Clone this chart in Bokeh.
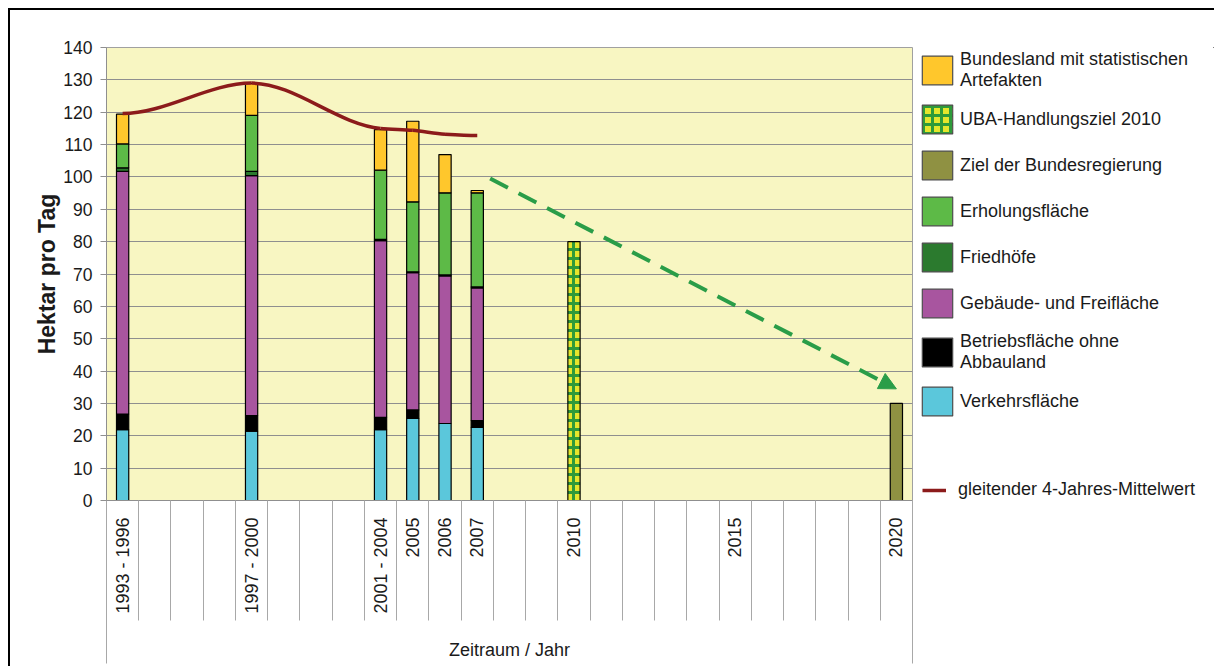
import numpy as np
from bokeh.plotting import figure
from bokeh.layouts import row
from bokeh.models import (Range1d, LinearAxis, FixedTicker, SingleIntervalTicker, Legend,
                          LegendItem, Arrow, NormalHead)
from bokeh.embed import file_html
from bokeh.resources import INLINE

# ---------------- data ----------------
x_categories = ["1993 - 1996", "", "", "", "1997 - 2000", "", "", "", "2001 - 2004",
                "2005", "2006", "2007", "", "", "2010", "", "", "", "", "2015",
                "", "", "", "", "2020"]

bar_periods = ["1993 - 1996", "1997 - 2000", "2001 - 2004", "2005", "2006", "2007"]
verkehr    = [21.9, 21.4, 21.9, 25.4, 23.8, 22.6]
betrieb    = [4.8, 4.8, 3.8, 2.6, -0.5, 2.1]
gebaeude   = [75.0, 74.2, 54.6, 42.4, 45.6, 41.0]
friedhoefe = [1.1, 1.3, 0.4, 0.3, 0.3, 0.3]
erholung   = [7.4, 17.3, 21.4, 21.6, 25.4, 29.1]
bundesland = [9.2, 9.9, 12.5, 24.9, 11.8, 0.7]

uba_period = ["2010"]
uba_value = [80]
ziel_period = ["2020"]
ziel_value = [30]

ma_periods = ["1993 - 1996", "1997 - 2000", "2001 - 2004", "2005", "2006", "2007"]
ma_values = [119.6, 129.0, 115.0, 114.4, 113.2, 112.8]

trend_x = [11.4, 24.0]
trend_y = [99.5, 34.5]

# ---------------- styling ----------------
FONT = "Liberation Sans"
TXT = "#1a1a1a"
GRID = "#8f8f8f"
SEP = "#a8a8a8"
C_VERK = "#5BC7DB"
C_BETR = "#000000"
C_GEB = "#A8559F"
C_FRIED = "#2B7A2E"
C_ERH = "#5DBA47"
C_BUND = "#FFC72C"
C_UBA_BG = "#E4E62C"
C_UBA_FG = "#2E9A3A"
C_ZIEL = "#8F9142"
C_MA = "#8C1B1B"
C_TREND = "#2A9D48"
UBA_HATCH = dict(hatch_pattern="cross", hatch_color=C_UBA_FG, hatch_scale=9, hatch_weight=3)
BAR_LINE = dict(line_color="black", line_width=1.2)
SW_LINE = dict(line_color="#4d4d4d", line_width=1.2)

def pos(label):
    return x_categories.index(label)

bar_x = [pos(c) for c in bar_periods]
BAR_W = 0.38

p = figure(width=903, height=656, x_range=Range1d(-0.5, len(x_categories) - 0.5),
           y_range=Range1d(0, 140), output_backend="svg", toolbar_location=None,
           x_axis_location=None, y_axis_location="left",
           min_border_left=96, min_border_top=37, min_border_right=1, min_border_bottom=166,
           background_fill_color="#F8F6C2", border_fill_color="white",
           outline_line_color="#a0a0a0")

# y axis
yax = p.yaxis[0]
yax.ticker = SingleIntervalTicker(interval=10)
yax.major_tick_out = 6
yax.major_tick_in = 0
yax.minor_tick_out = 0
yax.minor_tick_in = 0
yax.axis_line_color = GRID
yax.major_tick_line_color = GRID
yax.major_label_text_font = FONT
yax.major_label_text_font_size = "17.5px"
yax.major_label_text_color = TXT
yax.major_label_standoff = 8
yax.axis_label = "Hektar pro Tag"
yax.axis_label_text_font = FONT
yax.axis_label_text_font_size = "23px"
yax.axis_label_text_font_style = "bold"
yax.axis_label_text_color = TXT
yax.axis_label_standoff = 0

p.ygrid.grid_line_color = GRID
p.ygrid.grid_line_width = 1
p.xgrid.grid_line_color = None

# x axis A: labels + separators
label_ticks = [i for i, c in enumerate(x_categories) if c]
sep_ticks = [i - 0.5 for i in range(len(x_categories) + 1)]
axA = LinearAxis(ticker=FixedTicker(ticks=label_ticks, minor_ticks=sep_ticks),
                 major_label_overrides={i: x_categories[i] for i in label_ticks},
                 major_label_orientation=np.pi / 2,
                 major_tick_out=0, major_tick_in=0,
                 minor_tick_out=120, minor_tick_in=0,
                 minor_tick_line_color=SEP, minor_tick_line_width=1,
                 axis_line_color=GRID,
                 major_label_standoff=-103,
                 major_label_text_font=FONT, major_label_text_font_size="18px",
                 major_label_text_color=TXT)
p.add_layout(axA, "below")

# x axis B: outer box lines + title
axB = LinearAxis(ticker=FixedTicker(ticks=[-0.5, len(x_categories) - 0.5]),
                 major_label_overrides={-0.5: "", len(x_categories) - 0.5: ""},
                 major_label_text_font_size="0px", major_label_standoff=0,
                 major_tick_out=47, major_tick_in=0,
                 major_tick_line_color=SEP, major_tick_line_width=1,
                 minor_tick_out=0, minor_tick_in=0,
                 axis_line_color=None,
                 axis_label="Zeitraum / Jahr", axis_label_standoff=-24,
                 axis_label_text_font=FONT, axis_label_text_font_size="18px",
                 axis_label_text_font_style="normal", axis_label_text_color=TXT)
p.add_layout(axB, "below")

# stacked bars
series = [
    ("Verkehrsfläche", verkehr, C_VERK),
    ("Betriebsfläche ohne\nAbbauland", betrieb, C_BETR),
    ("Gebäude- und Freifläche", gebaeude, C_GEB),
    ("Friedhöfe", friedhoefe, C_FRIED),
    ("Erholungsfläche", erholung, C_ERH),
    ("Bundesland mit statistischen\nArtefakten", bundesland, C_BUND),
]
pos_base = np.zeros(len(bar_x))
neg_base = np.zeros(len(bar_x))
for name, vals, color in series:
    v = np.array(vals, dtype=float)
    bottom = np.where(v >= 0, pos_base, neg_base + v)
    top = np.where(v >= 0, pos_base + v, neg_base)
    pos_base = np.where(v >= 0, pos_base + v, pos_base)
    neg_base = np.where(v < 0, neg_base + v, neg_base)
    p.vbar(x=bar_x, bottom=bottom, top=top, width=BAR_W, fill_color=color, **BAR_LINE)

p.vbar(x=[pos(c) for c in uba_period], top=uba_value, bottom=0, width=BAR_W,
       fill_color=C_UBA_BG, **UBA_HATCH, **BAR_LINE)
p.vbar(x=[pos(c) for c in ziel_period], top=ziel_value, bottom=0, width=BAR_W,
       fill_color=C_ZIEL, **BAR_LINE)

# smoothed moving average (monotone cubic as bezier segments)
mx = np.array([pos(c) for c in ma_periods], dtype=float)
my = np.array(ma_values, dtype=float)
h = np.diff(mx)
d = np.diff(my) / h
m = np.zeros(len(mx))
for k in range(1, len(mx) - 1):
    if d[k - 1] * d[k] > 0:
        w1 = 2 * h[k] + h[k - 1]
        w2 = h[k] + 2 * h[k - 1]
        m[k] = (w1 + w2) / (w1 / d[k - 1] + w2 / d[k])
x0, y0 = mx[:-1], my[:-1]
x1, y1 = mx[1:], my[1:]
p.bezier(x0=x0, y0=y0, x1=x1, y1=y1,
         cx0=x0 + h / 3, cy0=y0 + m[:-1] * h / 3,
         cx1=x1 - h / 3, cy1=y1 - m[1:] * h / 3,
         line_color=C_MA, line_width=3.5)

# trend arrow
p.add_layout(Arrow(end=NormalHead(size=17, fill_color=C_TREND, line_color=C_TREND),
                   x_start=trend_x[0], y_start=trend_y[0], x_end=trend_x[1], y_end=trend_y[1],
                   line_color=C_TREND, line_width=4, line_dash="20 12"))

# ---------------- legend panel (separate canvas to the right) ----------------
# its ranges lie away from the data, so its renderers only feed the legend swatches
lg = figure(width=301, height=656, x_range=Range1d(-3, -2), y_range=Range1d(-3, -2),
            output_backend="svg", toolbar_location=None,
            x_axis_location=None, y_axis_location=None,
            min_border=0, outline_line_color=None,
            background_fill_color="white", border_fill_color="white")
lg.xgrid.visible = False
lg.ygrid.visible = False

swatch = {}
for name, vals, color in series:
    swatch[name] = lg.vbar(x=bar_x, top=vals, width=BAR_W, fill_color=color, **SW_LINE)
sw_uba = lg.vbar(x=[pos(c) for c in uba_period], top=uba_value, width=BAR_W,
                 fill_color=C_UBA_BG, **UBA_HATCH, **SW_LINE)
sw_ziel = lg.vbar(x=[pos(c) for c in ziel_period], top=ziel_value, width=BAR_W,
                  fill_color=C_ZIEL, **SW_LINE)
sw_ma = lg.line(x=mx, y=my, line_color=C_MA, line_width=3.5)

box_items = [
    LegendItem(label="Bundesland mit statistischen\nArtefakten", renderers=[swatch["Bundesland mit statistischen\nArtefakten"]]),
    LegendItem(label="UBA-Handlungsziel 2010", renderers=[sw_uba]),
    LegendItem(label="Ziel der Bundesregierung", renderers=[sw_ziel]),
    LegendItem(label="Erholungsfläche", renderers=[swatch["Erholungsfläche"]]),
    LegendItem(label="Friedhöfe", renderers=[swatch["Friedhöfe"]]),
    LegendItem(label="Gebäude- und Freifläche", renderers=[swatch["Gebäude- und Freifläche"]]),
    LegendItem(label="Betriebsfläche ohne\nAbbauland", renderers=[swatch["Betriebsfläche ohne\nAbbauland"]]),
    LegendItem(label="Verkehrsfläche", renderers=[swatch["Verkehrsfläche"]]),
]
LEG_TEXT = dict(label_text_font=FONT, label_text_font_size="18px", label_text_color=TXT,
                border_line_color=None, background_fill_alpha=0, margin=0, padding=0)
legend1 = Legend(items=box_items, location=(5, 81), orientation="vertical", ncols=1,
                 glyph_width=38, glyph_height=36, label_standoff=4, spacing=10, **LEG_TEXT)
lg.add_layout(legend1, "center")

legend2 = Legend(items=[LegendItem(label="gleitender 4-Jahres-Mittelwert", renderers=[sw_ma])],
                 location=(9, 0), orientation="vertical",
                 glyph_width=24, glyph_height=20, label_standoff=12, spacing=0, **LEG_TEXT)
lg.add_layout(legend2, "center")

layout = row(p, lg, spacing=0,
             styles={"margin-left": "8px", "margin-top": "8px",
                     "border-top": "2px solid black", "border-left": "2px solid black"})

open("out.html", "w").write(file_html(layout, INLINE))
